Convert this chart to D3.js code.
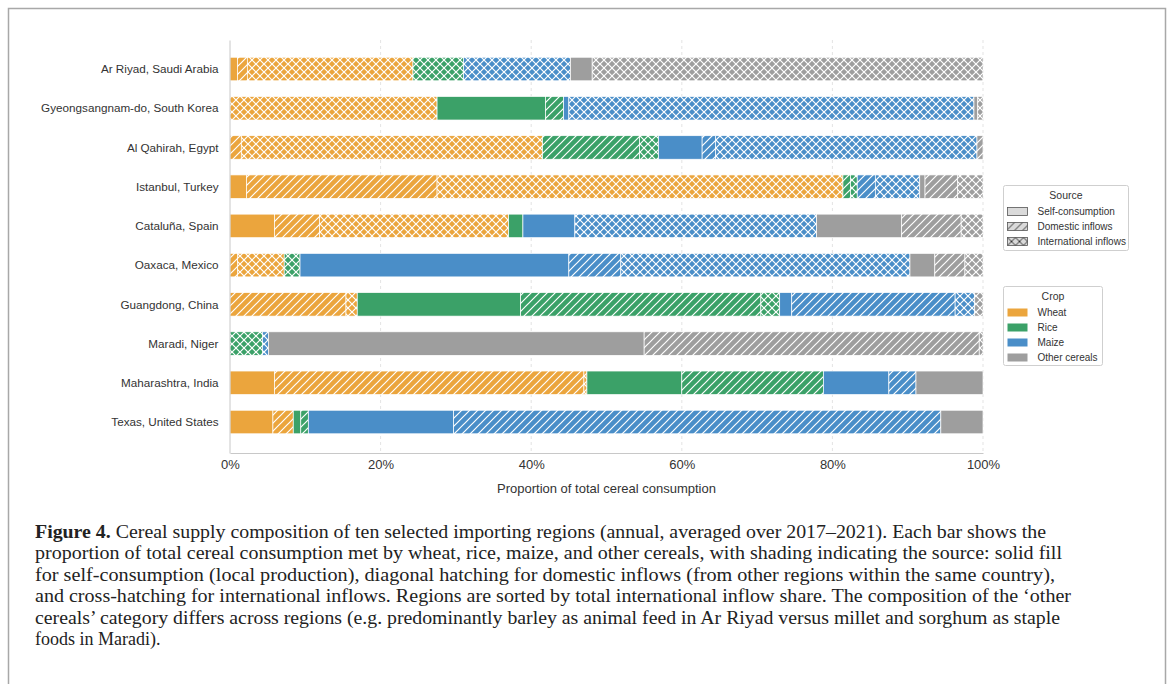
<!DOCTYPE html>
<html>
<head>
<meta charset="utf-8">
<script src="https://cdn.jsdelivr.net/npm/d3@7"></script>
<style>
  body { margin: 0; background: #fff; }
  svg { display: block; }
</style>
</head>
<body>
<div id="chart"></div>
<script>
// regions, top to bottom
const regions = [
  'Ar Riyad, Saudi Arabia',
  'Gyeongsangnam-do, South Korea',
  'Al Qahirah, Egypt',
  'Istanbul, Turkey',
  'Cataluña, Spain',
  'Oaxaca, Mexico',
  'Guangdong, China',
  'Maradi, Niger',
  'Maharashtra, India',
  'Texas, United States'
];

// shares in % of total cereal consumption (S = self, D = domestic inflow, I = international inflow)
const wheatS = [1.0, 0, 0, 2.2, 5.9, 0, 0, 0, 5.9, 5.7];
const wheatD = [1.3, 0, 1.5, 25.3, 6.0, 1.0, 15.4, 0, 41.1, 2.7];
const wheatI = [22.0, 27.5, 40.0, 53.9, 25.1, 6.2, 1.5, 0, 0.4, 0];
const riceS = [0, 14.4, 0, 0, 1.9, 0, 21.7, 0, 12.6, 1.0];
const riceD = [0, 2.4, 12.9, 1.0, 0, 0, 31.9, 0, 18.8, 1.0];
const riceI = [6.7, 0, 2.5, 0.9, 0, 2.1, 2.5, 4.3, 0, 0];
const maizeS = [0, 0.7, 5.8, 0, 6.9, 35.7, 1.6, 0, 8.7, 19.3];
const maizeD = [0, 0, 1.8, 2.4, 0, 6.9, 21.7, 0, 3.6, 64.7];
const maizeI = [14.2, 53.8, 34.7, 5.9, 32.1, 38.4, 2.6, 0.8, 0, 0];
const otherS = [2.9, 0.5, 0, 0.7, 11.3, 3.3, 0, 49.9, 8.9, 5.6];
const otherD = [0, 0, 0.8, 4.3, 7.9, 4.0, 0, 44.5, 0, 0];
const otherI = [51.9, 0.7, 0, 3.4, 2.9, 2.4, 1.1, 0.5, 0, 0];

const xTicks = [0, 20, 40, 60, 80, 100];
const crops = ['Wheat', 'Rice', 'Maize', 'Other cereals'];
const sources = ['Self-consumption', 'Domestic inflows', 'International inflows'];

const captionLines = [
  'Cereal supply composition of ten selected importing regions (annual, averaged over 2017\u20132021). Each bar shows the',
  'proportion of total cereal consumption met by wheat, rice, maize, and other cereals, with shading indicating the source: solid fill',
  'for self-consumption (local production), diagonal hatching for domestic inflows (from other regions within the same country),',
  'and cross-hatching for international inflows. Regions are sorted by total international inflow share. The composition of the \u2018other',
  'cereals\u2019 category differs across regions (e.g. predominantly barley as animal feed in Ar Riyad versus millet and sorghum as staple',
  'foods in Maradi).'
];

const cropColor = { Wheat: '#eba53d', Rice: '#3ba168', Maize: '#4a8ec8', 'Other cereals': '#9e9e9e' };
const series = [
  ['Wheat', 0, wheatS], ['Wheat', 1, wheatD], ['Wheat', 2, wheatI],
  ['Rice', 0, riceS], ['Rice', 1, riceD], ['Rice', 2, riceI],
  ['Maize', 0, maizeS], ['Maize', 1, maizeD], ['Maize', 2, maizeI],
  ['Other cereals', 0, otherS], ['Other cereals', 1, otherD], ['Other cereals', 2, otherI]
];

const W = 1171, H = 684;
const svg = d3.select('#chart').append('svg').attr('width', W).attr('height', H);

// figure frame
svg.append('path')
  .attr('d', `M8.5,${H} V8.5 H1165.5 V${H}`)
  .attr('fill', 'none')
  .attr('stroke', '#a8a8a8')
  .attr('stroke-width', 1.5);

// patterns
const defs = svg.append('defs');
function makePattern(id, bg, line, cross, lw) {
  const p = defs.append('pattern')
    .attr('id', id)
    .attr('patternUnits', 'userSpaceOnUse')
    .attr('width', 8).attr('height', 8);
  p.append('rect').attr('width', 8).attr('height', 8).attr('fill', bg);
  p.append('path')
    .attr('d', 'M-2,2 L2,-2 M0,8 L8,0 M6,10 L10,6')
    .attr('stroke', line).attr('stroke-width', lw);
  if (cross) {
    p.append('path')
      .attr('d', 'M-2,6 L2,10 M0,0 L8,8 M6,-2 L10,2')
      .attr('stroke', line).attr('stroke-width', lw);
  }
}
crops.forEach((c, ci) => {
  makePattern('dom' + ci, cropColor[c], '#fff', false, 1.2);
  makePattern('int' + ci, cropColor[c], '#fff', true, 1.2);
});
makePattern('legdom', '#dadada', '#333', false, 1);
makePattern('legint', '#dadada', '#333', true, 1);

function fillFor(crop, src) {
  const ci = crops.indexOf(crop);
  if (src === 0) return cropColor[crop];
  return src === 1 ? `url(#dom${ci})` : `url(#int${ci})`;
}

const x = d3.scaleLinear().domain([0, 100]).range([230, 983]);
const y = d3.scaleLinear().domain([-0.74, 9.79]).range([40, 453]);
const barH = y(0.6) - y(0);

// grid
svg.append('g')
  .selectAll('line')
  .data(xTicks.slice(1))
  .join('line')
  .attr('x1', d => x(d)).attr('x2', d => x(d))
  .attr('y1', 40).attr('y2', 453)
  .attr('stroke', '#dcdcdc')
  .attr('stroke-dasharray', '3,3')
  .attr('stroke-width', 0.8);

// stacked segments
const rows = regions.map((r, i) => {
  let acc = 0;
  return series.map(([crop, src, vals]) => {
    const seg = { row: i, crop, src, x0: acc, x1: acc + vals[i] };
    acc += vals[i];
    return seg;
  }).filter(s => s.x1 > s.x0);
});

svg.append('g')
  .selectAll('rect')
  .data(rows.flat())
  .join('rect')
  .attr('x', d => x(d.x0))
  .attr('width', d => x(d.x1) - x(d.x0))
  .attr('y', d => y(d.row) - barH / 2)
  .attr('height', barH)
  .attr('fill', d => fillFor(d.crop, d.src))
  .attr('stroke', '#fff')
  .attr('stroke-width', 0.7);

// axes
const xAxis = svg.append('g')
  .attr('transform', 'translate(0,453)')
  .call(d3.axisBottom(x).tickValues(xTicks).tickFormat(d => d + '%').tickSize(0).tickPadding(7));
xAxis.select('.domain').attr('stroke', '#c8c8c8');
xAxis.selectAll('.tick text')
  .attr('font-family', 'Liberation Sans, Arial, sans-serif')
  .attr('font-size', 13)
  .attr('fill', '#333');

const yAxis = svg.append('g')
  .attr('transform', 'translate(229.5,0)')
  .call(d3.axisLeft(y).tickValues(d3.range(regions.length)).tickFormat(i => regions[i]).tickSize(0).tickPadding(11));
yAxis.select('.domain').attr('stroke', '#c8c8c8');
yAxis.selectAll('.tick text')
  .attr('font-family', 'Liberation Sans, Arial, sans-serif')
  .attr('font-size', 11.7)
  .attr('fill', '#333');

svg.append('text')
  .attr('x', (x(0) + x(100)) / 2)
  .attr('y', 493)
  .attr('text-anchor', 'middle')
  .attr('font-family', 'Liberation Sans, Arial, sans-serif')
  .attr('font-size', 13)
  .attr('fill', '#333')
  .text('Proportion of total cereal consumption');

// legends
function legend(gx, gy, w, h, title, items, swatch) {
  const g = svg.append('g').attr('transform', `translate(${gx},${gy})`);
  g.append('rect')
    .attr('width', w).attr('height', h)
    .attr('rx', 2)
    .attr('fill', '#fff')
    .attr('stroke', '#cfcfcf');
  g.append('text')
    .attr('x', w / 2).attr('y', 13)
    .attr('text-anchor', 'middle')
    .attr('font-family', 'Liberation Sans, Arial, sans-serif')
    .attr('font-size', 10.5)
    .attr('fill', '#333')
    .text(title);
  items.forEach((it, i) => {
    const cy = 26 + i * 15;
    swatch(g.append('rect').attr('x', 4).attr('y', cy - 4).attr('width', 20).attr('height', 8), i);
    g.append('text')
      .attr('x', 34).attr('y', cy + 3.5)
      .attr('font-family', 'Liberation Sans, Arial, sans-serif')
      .attr('font-size', 10)
      .attr('fill', '#333')
      .text(it);
  });
}
legend(1003.5, 185.5, 125, 65, 'Source', sources, (r, i) => {
  r.attr('fill', ['#dadada', 'url(#legdom)', 'url(#legint)'][i])
    .attr('stroke', '#555').attr('stroke-width', 0.8);
});
legend(1003.5, 286.5, 99, 79, 'Crop', crops, (r, i) => {
  r.attr('fill', cropColor[crops[i]]);
});

// caption
const capWidths = [1011, 1027, 1020, 1036, 1025, null];
captionLines.forEach((line, i) => {
  const t = svg.append('text')
    .attr('x', 35)
    .attr('y', 538 + i * 21.4)
    .attr('font-family', 'Liberation Serif, Times New Roman, serif')
    .attr('font-size', 18)
    .attr('fill', '#222');
  if (capWidths[i]) t.attr('textLength', capWidths[i]).attr('lengthAdjust', 'spacingAndGlyphs');
  if (i === 0) {
    t.append('tspan').attr('font-weight', 'bold').text('Figure 4.');
    t.append('tspan').text(' ' + line);
  } else {
    t.text(line);
  }
});
</script>
</body>
</html>
